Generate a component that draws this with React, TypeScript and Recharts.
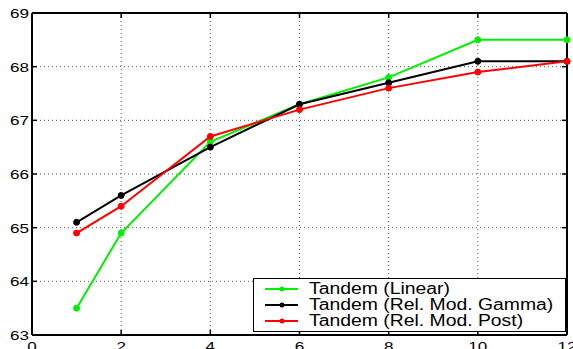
import React from "react";
import { LineChart, Line, XAxis, YAxis, CartesianGrid, ReferenceLine } from "recharts";

const xValues = [1, 2, 4, 6, 8, 10, 12];
const linear = [63.5, 64.9, 66.6, 67.3, 67.8, 68.5, 68.5];
const relGamma = [65.1, 65.6, 66.5, 67.3, 67.7, 68.1, 68.1];
const relPost = [64.9, 65.4, 66.7, 67.2, 67.6, 67.9, 68.1];
const xTicks = [0, 2, 4, 6, 8, 10, 12];
const yTicks = [63, 64, 65, 66, 67, 68, 69];

const seriesInfo = [
  { key: "linear", name: "Tandem (Linear)", color: "#00f000" },
  { key: "gamma", name: "Tandem (Rel. Mod. Gamma)", color: "#000000" },
  { key: "post", name: "Tandem (Rel. Mod. Post)", color: "#ff0000" },
];

const data = xValues.map((x, i) => ({
  x,
  linear: linear[i],
  gamma: relGamma[i],
  post: relPost[i],
}));

const FONT = "'Liberation Sans', Arial, Helvetica, sans-serif";

// the original figure is stretched sideways, so labels get a fixed width per digit
const labelWidth = (v: any) => String(v).length * 9.5;

const BottomTick = ({ x, y, payload }: any) => (
  <g>
    <line x1={x} y1={y} x2={x} y2={y - 5} stroke="#000" strokeWidth={1.5} />
    <text
      x={x}
      y={y + 16}
      textAnchor="middle"
      fontSize={13}
      fontFamily={FONT}
      fill="#000"
      textLength={labelWidth(payload.value)}
      lengthAdjust="spacingAndGlyphs"
    >
      {payload.value}
    </text>
  </g>
);

const TopTick = ({ x, y }: any) => (
  <line x1={x} y1={y} x2={x} y2={y + 5} stroke="#000" strokeWidth={1.5} />
);

const LeftTick = ({ x, y, payload }: any) => (
  <g>
    <line x1={x} y1={y} x2={x + 5} y2={y} stroke="#000" strokeWidth={1.5} />
    <text
      x={x - 3}
      y={y + 5}
      textAnchor="end"
      fontSize={13}
      fontFamily={FONT}
      fill="#000"
      textLength={labelWidth(payload.value)}
      lengthAdjust="spacingAndGlyphs"
    >
      {payload.value}
    </text>
  </g>
);

const RightTick = ({ x, y }: any) => (
  <line x1={x} y1={y} x2={x - 5} y2={y} stroke="#000" strokeWidth={1.5} />
);

const LegendBox = () => (
  <div
    style={{
      position: "absolute",
      left: 253,
      top: 278,
      width: 311,
      height: 50,
      border: "1px solid #000",
      background: "#fff",
      padding: "2px 0 0 0",
      fontFamily: FONT,
      fontSize: 16,
      lineHeight: "16px",
      boxSizing: "content-box",
    }}
  >
    {seriesInfo.map((s) => (
      <div key={s.key} style={{ display: "flex", alignItems: "center", height: 16, whiteSpace: "nowrap" }}>
        <svg width={55} height={16} style={{ flex: "none" }}>
          <line x1={11} y1={8} x2={44} y2={8} stroke={s.color} strokeWidth={2} />
          <circle cx={28} cy={8} r={2.5} fill={s.color} />
        </svg>
        <span style={{ color: "#000", display: "inline-block", transform: "scaleX(1.21)", transformOrigin: "left center" }}>
          {s.name}
        </span>
      </div>
    ))}
  </div>
);

export default function App() {
  return (
    <div style={{ position: "absolute", left: 0, top: 0, width: 573, height: 349, background: "#fff", overflow: "hidden" }}>
      <LineChart width={573} height={349} data={data} margin={{ top: 12, right: 5, left: 0, bottom: 0 }}>
        <CartesianGrid stroke="#555" strokeDasharray="1 3" />
        <XAxis
          dataKey="x"
          type="number"
          domain={[0, 12]}
          ticks={xTicks}
          height={14}
          tickSize={0}
          tickMargin={0}
          tick={<BottomTick />}
          axisLine={{ stroke: "#000", strokeWidth: 2 }}
          tickLine={false}
          interval={0}
        />
        <XAxis
          xAxisId="top"
          orientation="top"
          dataKey="x"
          type="number"
          domain={[0, 12]}
          ticks={xTicks}
          height={1}
          tickSize={0}
          tickMargin={0}
          tick={<TopTick />}
          axisLine={{ stroke: "#000", strokeWidth: 2 }}
          tickLine={false}
          interval={0}
        />
        <YAxis
          type="number"
          domain={[63, 69]}
          ticks={yTicks}
          width={32}
          tickSize={0}
          tickMargin={0}
          tick={<LeftTick />}
          axisLine={{ stroke: "#000", strokeWidth: 2 }}
          tickLine={false}
          interval={0}
        />
        <YAxis
          yAxisId="right"
          orientation="right"
          type="number"
          domain={[63, 69]}
          ticks={yTicks}
          width={1}
          tickSize={0}
          tickMargin={0}
          tick={<RightTick />}
          axisLine={{ stroke: "#000", strokeWidth: 2 }}
          tickLine={false}
          interval={0}
        />
        <ReferenceLine y={69} stroke="#000" strokeWidth={2} />
        <ReferenceLine x={12} stroke="#000" strokeWidth={2} />
        <Line
          xAxisId="top"
          yAxisId="right"
          dataKey="post"
          stroke="none"
          dot={false}
          activeDot={false}
          legendType="none"
          isAnimationActive={false}
        />
        {seriesInfo.map((s) => (
          <Line
            key={s.key}
            dataKey={s.key}
            name={s.name}
            stroke={s.color}
            strokeWidth={2}
            dot={{ r: 3, fill: s.color, stroke: s.color, strokeWidth: 1 }}
            isAnimationActive={false}
          />
        ))}
      </LineChart>
      <LegendBox />
    </div>
  );
}
